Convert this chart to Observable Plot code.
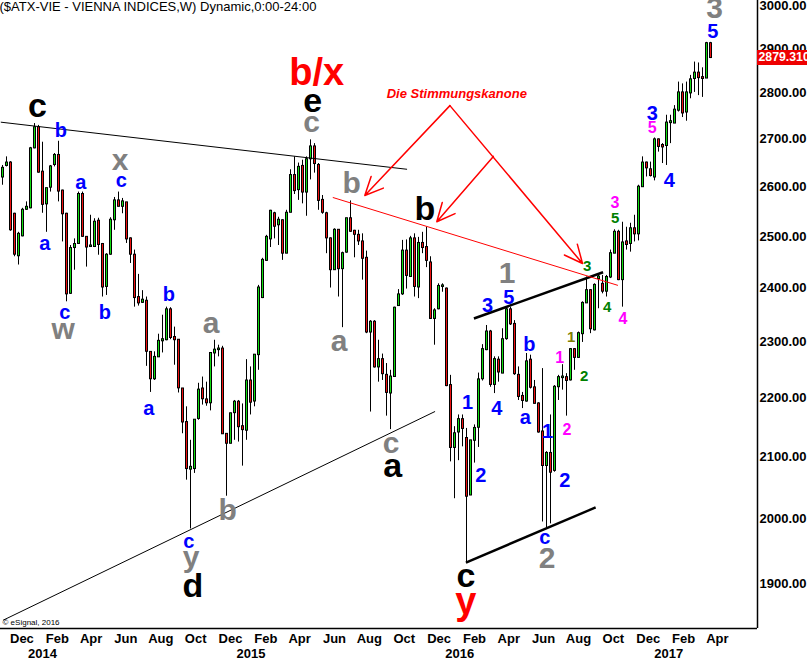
<!DOCTYPE html>
<html><head><meta charset="utf-8">
<script src="https://cdn.jsdelivr.net/npm/d3@7"></script>
<script src="https://cdn.jsdelivr.net/npm/@observablehq/plot@0.6"></script>
<style>
html,body{margin:0;padding:0;background:#fff;overflow:hidden;}
#chart{width:807px;height:661px;}
</style></head><body><div id="chart"></div>
<script>
const FONT = "Liberation Sans, Arial, sans-serif";
const title = "($ATX-VIE - VIENNA INDICES,W) Dynamic,0:00-24:00";
const copyright = "\u00a9 eSignal, 2016";
const firstWeek = "2013-11-18";
const lastPrice = 2879.31;

const open = [
2620,2644,2649,2544,2462,2501,2554,2557,2681,2724,
2630,2565,2599,2646,2665,2591,2544,2390,2478,2486,
2584,2498,2480,2480,2530,2484,2403,2465,2533,2571,
2560,2567,2495,2463,2382,2373,2375,2281,2234,2273,
2302,2304,2359,2308,2303,2216,2158,2080,2081,2165,
2216,2197,2192,2280,2286,2287,2138,2123,2175,2193,
2151,2145,2230,2195,2277,2382,2453,2495,2545,2523,
2531,2467,2548,2623,2594,2642,2589,2658,2683,2644,
2572,2545,2495,2435,2512,2437,2469,2535,2510,2502,
2489,2457,2318,2336,2255,2268,2240,2209,2238,2367,
2389,2471,2422,2495,2402,2486,2478,2448,2343,2361,
2403,2398,2222,2116,2142,2163,2131,2038,2128,2150,
2234,2286,2318,2224,2267,2244,2306,2359,2332,2240,
2203,2195,2267,2218,2190,2142,2086,2106,2078,2220,
2236,2236,2232,2286,2272,2315,2372,2395,2322,2418,
2407,2394,2421,2467,2508,2416,2489,2486,2515,2505,
2600,2649,2635,2620,2698,2686,2686,2735,2734,2762,
2800,2758,2800,2832,2844,2834,2833,2911];
const high = [
2644,2662,2652,2546,2508,2556,2569,2682,2733,2729,
2693,2597,2644,2669,2695,2593,2546,2482,2495,2589,
2589,2499,2542,2535,2536,2486,2466,2537,2578,2589,
2576,2568,2497,2473,2426,2395,2383,2282,2282,2314,
2349,2364,2363,2327,2304,2217,2185,2128,2162,2226,
2237,2228,2280,2303,2294,2292,2139,2174,2196,2196,
2190,2268,2255,2277,2405,2457,2502,2552,2548,2538,
2533,2552,2635,2662,2649,2655,2662,2698,2690,2648,
2582,2548,2497,2515,2513,2469,2536,2571,2512,2512,
2505,2471,2339,2339,2303,2278,2261,2249,2364,2397,
2492,2493,2500,2505,2498,2508,2518,2460,2361,2408,
2408,2400,2240,2151,2171,2171,2148,2128,2154,2244,
2295,2330,2321,2273,2273,2324,2364,2364,2339,2255,
2210,2279,2276,2231,2192,2252,2109,2171,2222,2240,
2259,2243,2288,2288,2318,2374,2421,2397,2408,2427,
2424,2424,2473,2513,2512,2528,2518,2526,2542,2603,
2662,2651,2651,2702,2700,2690,2751,2751,2772,2824,
2820,2824,2839,2869,2867,2856,2914,2914];
const low = [
2603,2641,2510,2460,2444,2499,2552,2555,2679,2628,
2546,2508,2589,2641,2569,2489,2374,2388,2434,2484,
2498,2440,2478,2478,2463,2383,2386,2463,2512,2559,
2545,2486,2447,2364,2366,2371,2256,2210,2231,2272,
2280,2302,2304,2258,2209,2139,2062,1984,2073,2162,
2188,2186,2178,2255,2273,2138,2036,2122,2128,2125,
2085,2128,2171,2185,2249,2380,2451,2478,2495,2482,
2453,2466,2547,2584,2572,2565,2540,2614,2628,2552,
2544,2466,2400,2434,2383,2326,2467,2508,2458,2482,
2415,2315,2176,2253,2228,2231,2169,2146,2237,2366,
2386,2398,2420,2383,2380,2466,2439,2341,2294,2359,
2392,2220,2092,2032,2094,2117,1932,2037,2090,2116,
2230,2284,2219,2208,2228,2243,2303,2330,2240,2196,
2182,2193,2216,2190,2140,1995,1986,1992,2075,2196,
2214,2169,2230,2249,2270,2299,2371,2315,2320,2361,
2389,2383,2418,2466,2414,2364,2473,2469,2489,2491,
2599,2620,2620,2612,2672,2648,2644,2690,2733,2758,
2746,2738,2787,2801,2794,2790,2832,2877];
const close = [
2638,2649,2513,2465,2504,2552,2558,2679,2724,2630,
2564,2596,2641,2665,2591,2545,2389,2476,2484,2584,
2500,2479,2481,2528,2484,2402,2463,2532,2571,2560,
2569,2495,2465,2382,2372,2377,2283,2234,2272,2301,
2304,2359,2308,2304,2218,2159,2081,2083,2162,2214,
2199,2192,2279,2285,2287,2139,2123,2173,2193,2151,
2146,2230,2193,2276,2400,2453,2498,2550,2520,2532,
2467,2546,2623,2592,2640,2589,2656,2683,2648,2572,
2548,2497,2435,2512,2437,2466,2535,2510,2504,2491,
2457,2318,2336,2255,2268,2243,2210,2237,2362,2387,
2471,2424,2495,2403,2486,2478,2453,2343,2357,2403,
2404,2222,2116,2139,2163,2148,2036,2127,2148,2232,
2286,2318,2224,2268,2246,2304,2359,2333,2243,2203,
2196,2264,2219,2191,2142,2086,2106,2075,2219,2236,
2237,2231,2286,2272,2315,2371,2395,2324,2405,2421,
2394,2420,2466,2508,2416,2487,2484,2515,2505,2599,
2649,2639,2623,2698,2684,2683,2734,2737,2762,2800,
2756,2800,2829,2844,2834,2832,2911,2879.31];

const priceTicks = [1900,2000,2100,2200,2300,2400,2500,2600,2700,2800,2900,3000];
const monthTicks = ["2013-12-22","2014-02-22","2014-04-22","2014-06-22","2014-08-22","2014-10-22",
  "2014-12-22","2015-02-22","2015-04-22","2015-06-22","2015-08-22","2015-10-22",
  "2015-12-22","2016-02-22","2016-04-22","2016-06-22","2016-08-22","2016-10-22",
  "2016-12-22","2017-02-22","2017-04-22"];
const yearTicks = ["2014-01-27","2015-01-27","2016-01-27","2017-01-27"];
const xDomain = ["2013-11-14T12:00Z","2017-07-01T06:00Z"];
const yDomain = [1834, 3012];

// wave labels: [date, price, text]
const labelsBlack = [["2014-01-18",2772,"c"],["2015-05-15",2781,"e"],["2014-10-17",1897,"d"],
  ["2015-10-02",2085,"a"],["2015-11-27",2554,"b"],["2016-02-07",1911,"c"]];
const labelsRed = [["2015-05-22",2844,"b/x"],["2016-02-07",1873,"y"]];
const labelsGray = [["2014-06-12",2655,"x"],["2014-03-04",2323,"w"],["2014-11-18",2334,"a"],
  ["2014-10-14",1940,"y"],["2014-12-17",2013,"b"],["2015-06-30",2301,"a"],["2015-09-29",2123,"c"],
  ["2015-05-13",2736,"c"],["2015-07-22",2607,"b"],["2016-04-19",2428,"1"],["2016-06-28",1938,"2"],
  ["2017-04-17",2993,"3"]];
const labelsBlue = [["2014-02-28",2718,"b"],["2014-01-31",2486,"a"],["2014-06-14",2613,"c"],
  ["2014-04-04",2609,"a"],["2014-03-07",2354,"c"],["2014-05-16",2353,"b"],["2014-09-05",2388,"b"],
  ["2014-08-01",2182,"a"],["2014-10-10",1965,"c"],["2016-03-16",2367,"3"],["2016-04-22",2382,"5"],
  ["2016-12-29",2755,"3"],["2017-01-28",2613,"4"],["2017-04-14",2940,"5"],["2016-05-28",2295,"b"],
  ["2016-02-10",2193,"1"],["2016-04-01",2182,"4"],["2016-05-21",2167,"a"],["2016-06-29",2142,"1"],
  ["2016-03-04",2070,"2"],["2016-07-29",2062,"2"],["2016-06-24",1970,"c"]];
const labelsMagenta = [["2016-10-25",2566,"3"],["2016-11-08",2343,"4"],["2016-12-29",2723,"5"],
  ["2016-07-20",2271,"1"],["2016-08-02",2145,"2"]];
const labelsGreen = [["2016-09-06",2442,"3"],["2016-10-25",2536,"5"],["2016-10-11",2364,"4"],["2016-09-01",2238,"2"]];
const labelsOlive = [["2016-08-09",2308,"1"]];
const noteText = "Die Stimmungskanone";
const notePos = [["2016-01-22",2798]];

// lines: [date1, price1, date2, price2]
const trendThin = [["2013-11-15",2736,"2015-10-27",2636],["2013-11-19",1846,"2015-12-15",2177]];
const channel = [["2016-02-21",2343,"2016-10-04",2430],["2016-02-07",1932,"2016-09-21",2018]];
const trendRed = [["2015-06-19",2578,"2016-10-30",2405]];
const arrows = [["2016-01-10",2772,"2015-08-14",2582],["2016-01-10",2772,"2016-08-29",2447],
  ["2016-03-26",2663,"2015-12-18",2529]];

const start = new Date(firstWeek);
const candles = open.map((o, i) => ({
  date: d3.utcDay.offset(start, 7 * i), open: o, high: high[i], low: low[i], close: close[i],
  top: Math.max(o, close[i]), bottom: Math.min(o, close[i]), up: close[i] >= o
}));
const xEnd = new Date(xDomain[1]);
const D = (s) => new Date(s);

function labels(rows, fill, size) {
  return Plot.text(rows, {x: d => D(d[0]), y: d => d[1], text: d => d[2], fill, fontSize: size,
    fontWeight: "bold", fontFamily: FONT, textAnchor: "middle", lineAnchor: "middle"});
}
function links(rows, stroke, w) {
  return Plot.link(rows, {x1: d => D(d[0]), y1: d => d[1], x2: d => D(d[2]), y2: d => d[3], stroke, strokeWidth: w});
}

const chart = Plot.plot({
  width: 807, height: 661,
  marginTop: 0, marginRight: 50, marginBottom: 33, marginLeft: 0,
  style: {fontFamily: FONT, fontSize: "13px", fontWeight: "bold", background: "white", color: "black"},
  x: {type: "utc", domain: xDomain.map(D)},
  y: {type: "log", domain: yDomain},
  marks: [
    // wicks
    Plot.ruleX(candles, {x: "date", y1: "low", y2: "high", stroke: "black", strokeWidth: 1}),
    // bodies: black outline then colored core
    Plot.ruleX(candles, {x: "date", y1: "top", y2: "bottom", stroke: "black", strokeWidth: 3, insetTop: -1, insetBottom: -1}),
    Plot.ruleX(candles, {x: "date", y1: "top", y2: "bottom", stroke: d => d.up ? "#11dd11" : "#ee1111", strokeWidth: 1}),
    links(trendThin, "black", 1),
    links(channel, "black", 2.5),
    links(trendRed, "#ff0000", 1),
    Plot.arrow(arrows, {x1: d => D(d[0]), y1: d => d[1], x2: d => D(d[2]), y2: d => d[3],
      stroke: "#ff0000", strokeWidth: 1.5, headLength: 20, headAngle: 50}),
    Plot.text(notePos, {x: d => D(d[0]), y: d => d[1], text: () => noteText, fill: "#ff0000",
      fontSize: 13, fontWeight: "bold", fontStyle: "italic", fontFamily: FONT, lineAnchor: "middle"}),
    labels(labelsGray, "#808080", 30),
    labels(labelsBlue, "#0000ff", 20),
    labels(labelsMagenta, "#ff00ff", 16),
    labels(labelsGreen, "#008000", 15),
    labels(labelsOlive, "#808000", 15),
    labels(labelsBlack, "black", 34),
    labels(labelsRed, "#ff0000", 38),
    // title and copyright
    Plot.text([title], {frameAnchor: "top-left", text: d => d, dx: -1, dy: 1, lineAnchor: "top",
      textAnchor: "start", fontSize: 13, fontWeight: "normal", fill: "black"}),
    Plot.text([copyright], {frameAnchor: "bottom-left", text: d => d, dx: 2, dy: -6, lineAnchor: "middle",
      textAnchor: "start", fontSize: 8, fontWeight: "normal", fill: "black"}),
    // axes
    Plot.ruleY([yDomain[0]], {stroke: "black", strokeWidth: 1.5}),
    Plot.ruleX([xEnd], {stroke: "black", strokeWidth: 1.5}),
    Plot.axisY(priceTicks, {anchor: "right", tickSize: 0, tickPadding: 2, tickFormat: d => d.toFixed(2),
      fontSize: 13, fontWeight: "bold", fill: "black"}),
    Plot.axisX(monthTicks.map(D), {anchor: "bottom", tickSize: 0, tickPadding: 5, tickFormat: d3.utcFormat("%b"),
      fontSize: 13, fontWeight: "bold", fill: "black"}),
    Plot.axisX(yearTicks.map(D), {anchor: "bottom", tickSize: 0, tickPadding: 20, tickFormat: d3.utcFormat("%Y"),
      fontSize: 13, fontWeight: "bold", fill: "black"}),
    // last price box
    Plot.ruleY([lastPrice], {x1: () => xEnd, x2: () => xEnd, insetRight: -52, stroke: "#ee0000", strokeWidth: 15}),
    Plot.text([lastPrice], {x: () => xEnd, y: d => d, text: d => d3.format(".3f")(d), dx: 1, textAnchor: "start",
      fill: "white", fontSize: 12.3, fontWeight: "bold"})
  ]
});
document.getElementById("chart").appendChild(chart);
</script>
</body></html>
